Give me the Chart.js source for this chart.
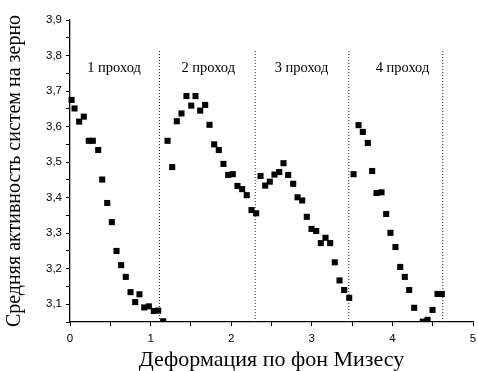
<!DOCTYPE html>
<html>
<head>
<meta charset="utf-8">
<script src="https://cdn.jsdelivr.net/npm/chart.js@4/dist/chart.umd.min.js"></script>
<style>
body{margin:0;background:#fff;}
</style>
</head>
<body>
<canvas id="myChart" width="478" height="371" style="width:478px;height:371px"></canvas>
<script>
// points, one pair of arrays per pass
var strain1 = [0.02,0.056,0.114,0.171,0.233,0.283,0.35,0.40,0.462,0.519,0.577,0.635,0.692,0.751,0.809,0.862,0.921,0.978,1.040,1.094,1.156];
var activity1 = [3.675,3.651,3.614,3.628,3.560,3.560,3.534,3.451,3.385,3.331,3.250,3.210,3.177,3.134,3.106,3.128,3.091,3.094,3.081,3.082,3.052];

var strain2 = [1.210,1.268,1.325,1.383,1.445,1.504,1.557,1.615,1.677,1.731,1.789,1.846,1.904,1.963,2.020,2.078,2.136,2.193,2.252,2.310];
var activity2 = [3.560,3.486,3.615,3.637,3.686,3.659,3.686,3.645,3.661,3.605,3.550,3.534,3.495,3.464,3.466,3.433,3.424,3.407,3.365,3.356];

var strain3 = [2.364,2.422,2.479,2.537,2.596,2.649,2.707,2.769,2.823,2.881,2.938,2.996,3.055,3.112,3.170,3.228,3.285,3.344,3.402,3.464];
var activity3 = [3.461,3.434,3.445,3.465,3.472,3.497,3.464,3.439,3.401,3.392,3.346,3.312,3.306,3.272,3.287,3.272,3.218,3.167,3.140,3.118];

var strain4 = [3.518,3.580,3.633,3.695,3.749,3.803,3.865,3.923,3.976,4.038,4.097,4.154,4.208,4.270,4.377,4.436,4.498,4.560,4.613];
var activity4 = [3.466,3.604,3.585,3.554,3.475,3.413,3.415,3.354,3.301,3.261,3.205,3.177,3.140,3.090,3.051,3.056,3.084,3.129,3.129];

// pass borders and captions
var dividerX = [1.110,2.298,3.459,4.625];
var dividerTop = 3.818;
var passLabels = ["1 проход","2 проход","3 проход","4 проход"];
var passLabelX = [0.546,1.715,2.872,4.125];
var passLabelY = 3.765;

// axes
var xMajor = [0,1,2,3,4,5];
var xMinor = [0.5,1.5,2.5,3.5,4.5];
var yMajor = [3.1,3.2,3.3,3.4,3.5,3.6,3.7,3.8,3.9];
var yMinor = [3.05,3.15,3.25,3.35,3.45,3.55,3.65,3.75,3.85];
var xTitle = "Деформация по фон Мизесу";
var yTitle = "Средняя активность систем на зерно";

function toPoints(xs, ys){
	var pts = [];
	for(var i = 0;i<xs.length;i++){
		pts.push({x:xs[i],y:ys[i]});
	}
	return pts;
}

function isMajor(list, v){
	for(var i = 0;i<list.length;i++){
		if(Math.abs(list[i]-v) < 1e-6) return true;
	}
	return false;
}

var datasets = [];
// dotted borders between passes
for(var d = 0;d<dividerX.length;d++){
	datasets.push({
		data:[{x:dividerX[d],y:3.05},{x:dividerX[d],y:dividerTop}],
		showLine:true,
		borderColor:"#222",
		borderWidth:1,
		borderDash:[1,2],
		pointRadius:0,
		clip:false
	});
}
var passes = [[strain1,activity1],[strain2,activity2],[strain3,activity3],[strain4,activity4]];
for(var p = 0;p<passes.length;p++){
	datasets.push({
		data:toPoints(passes[p][0],passes[p][1]),
		pointStyle:"rect",
		pointRadius:4.3,
		pointBorderWidth:0,
		backgroundColor:"#000",
		borderColor:"#000",
		showLine:false,
		clip:{left:5,top:5,right:5,bottom:0}
	});
}

// captions "N проход" placed through the scales
var passText = {
	id:"passText",
	afterDatasetsDraw:function(chart){
		var ctx = chart.ctx;
		var xs = chart.scales.x, ys = chart.scales.y;
		ctx.save();
		ctx.fillStyle = "#000";
		ctx.font = "14.5px 'Liberation Serif'";
		ctx.textAlign = "center";
		ctx.textBaseline = "middle";
		for(var i = 0;i<passLabels.length;i++){
			ctx.fillText(passLabels[i], xs.getPixelForValue(passLabelX[i]), ys.getPixelForValue(passLabelY));
		}
		ctx.restore();
	}
};

var ctx = document.getElementById("myChart").getContext("2d");
var config = {
	type:"scatter",
	data:{datasets:datasets},
	options:{
		responsive:false,
		devicePixelRatio:1,
		animation:false,
		layout:{padding:{top:20,right:5,left:0,bottom:0}},
		plugins:{legend:{display:false},tooltip:{enabled:false}},
		scales:{
			x:{
				type:"linear",
				min:0,max:5,
				afterBuildTicks:function(scale){
					var all = xMajor.concat(xMinor).sort(function(a,b){return a-b;});
					scale.ticks = all.map(function(v){return {value:v};});
				},
				afterFit:function(scale){
					scale.height = 49;
					scale.paddingLeft = 0;
					scale.paddingRight = 0;
				},
				ticks:{
					autoSkip:false,
					maxRotation:0,
					padding:5.5,
					color:"#000",
					font:{family:"'Liberation Sans'",size:11.5},
					callback:function(v){ return isMajor(xMajor,v) ? String(v) : ""; }
				},
				grid:{drawOnChartArea:false,tickLength:4,tickColor:"#000",tickWidth:1},
				border:{display:true,color:"#000",width:1.3},
				title:{display:true,text:xTitle,color:"#000",
					font:{family:"'Liberation Serif'",size:22,lineHeight:1},padding:{top:0,bottom:0}}
			},
			y:{
				type:"linear",
				min:3.05,max:3.9,
				afterBuildTicks:function(scale){
					var all = yMajor.concat(yMinor).sort(function(a,b){return a-b;});
					scale.ticks = all.map(function(v){return {value:v};});
				},
				afterFit:function(scale){
					scale.width = 70;
					scale.paddingTop = 0;
					scale.paddingBottom = 0;
				},
				ticks:{
					autoSkip:false,
					padding:4,
					color:"#000",
					font:{family:"'Liberation Sans'",size:11.5},
					callback:function(v){ return isMajor(yMajor,v) ? v.toFixed(1).replace(".",",") : ""; }
				},
				grid:{drawOnChartArea:false,tickLength:4,tickColor:"#000",tickWidth:1},
				border:{display:true,color:"#000",width:1.3},
				title:{display:true,text:yTitle,color:"#000",
					font:{family:"'Liberation Serif'",size:20,lineHeight:1},padding:{top:4.5,bottom:0}}
			}
		}
	},
	plugins:[passText]
};
var chart = new Chart(ctx,config);
</script>
</body>
</html>
